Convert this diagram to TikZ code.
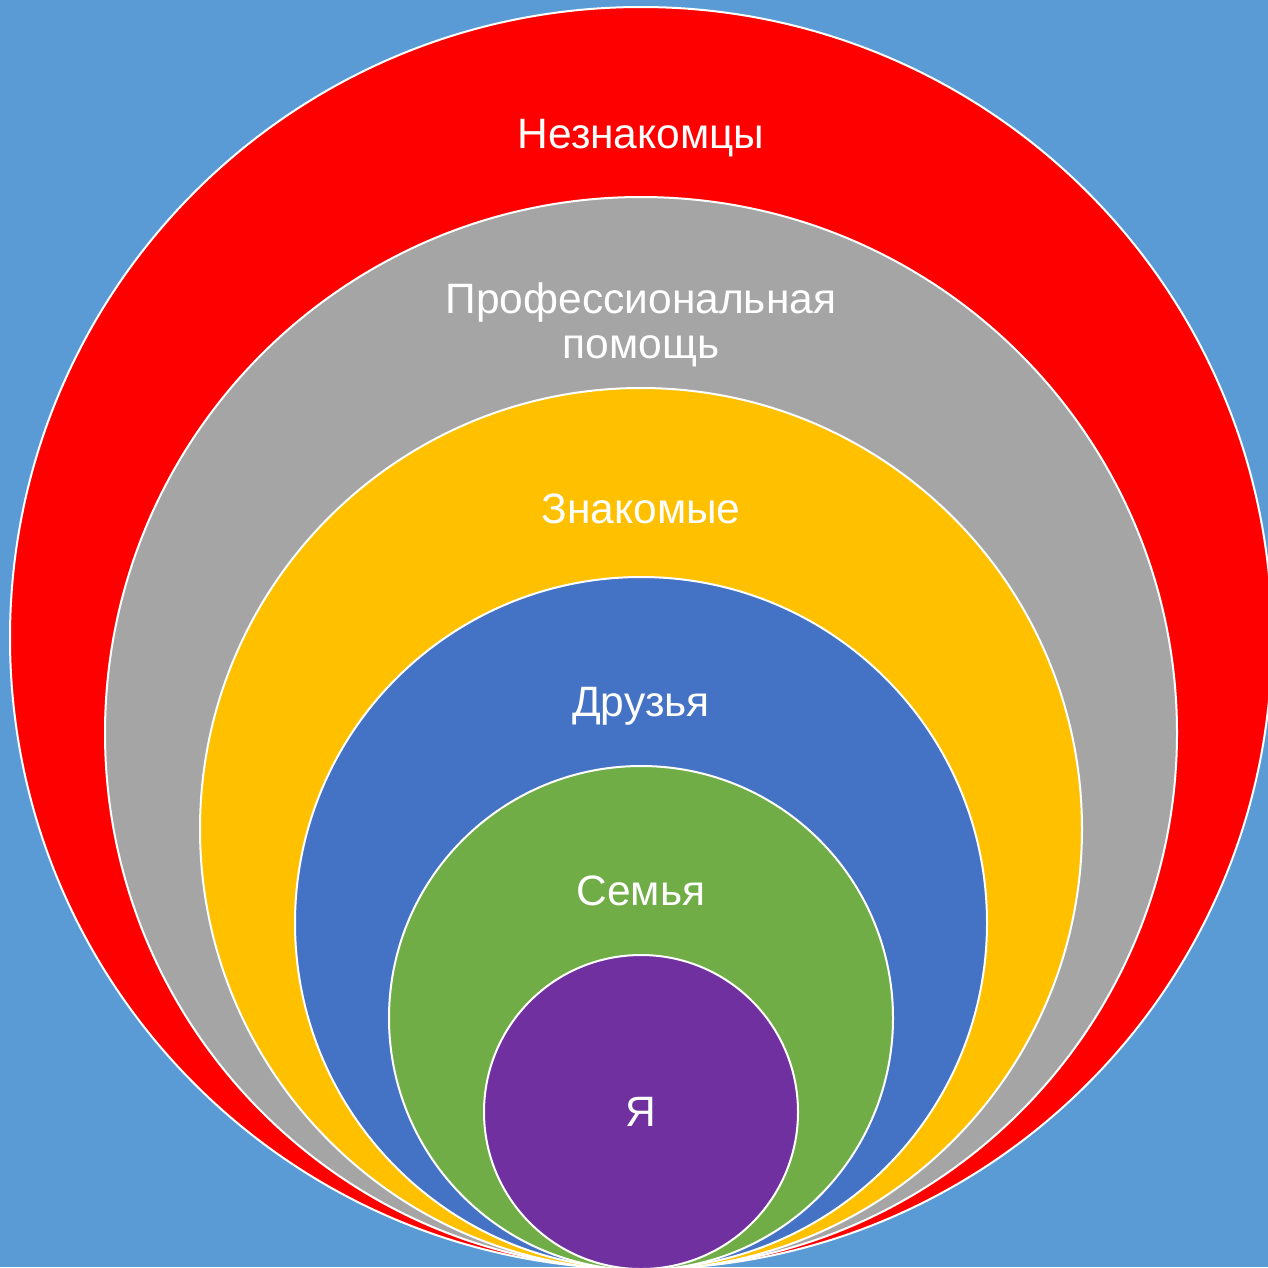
\documentclass[tikz,border=0pt]{standalone}
\usepackage{fontspec}
\setmainfont{Liberation Sans}
\definecolor{bgc}{HTML}{5B9BD5}
\definecolor{cred}{HTML}{FF0000}
\definecolor{cgray}{HTML}{A5A5A5}
\definecolor{cyel}{HTML}{FFC000}
\definecolor{cblue}{HTML}{4472C4}
\definecolor{cgreen}{HTML}{70AD47}
\definecolor{cpurp}{HTML}{7030A0}
\begin{document}
\begin{tikzpicture}[x=1pt,y=-1pt,
  ring/.style={circle,draw=white,line width=2pt,inner sep=0pt,outer sep=0pt},
  lbl/.style={text=white,font=\fontsize{42.5}{45}\selectfont,anchor=base,align=center}]
\fill[bgc] (0,0) rectangle (1268,1267);
\useasboundingbox (0,0) rectangle (1268,1267);
\begin{scope}
\clip (0,0) rectangle (1268,1267);
\node[ring,fill=cred,minimum size=1262pt] (c1) at (641,638) {};
\node[ring,fill=cgray,minimum size=1072pt] (c2) at (641,733) {};
\node[ring,fill=cyel,minimum size=882pt] (c3) at (641,829) {};
\node[ring,fill=cblue,minimum size=692pt] (c4) at (641,923) {};
\node[ring,fill=cgreen,minimum size=504pt] (c5) at (641,1018) {};
\node[ring,fill=cpurp,minimum size=314pt] (c6) at (641,1112) {};
\end{scope}
\node[lbl] (t1) at (641,148) {Незнакомцы};
\node[lbl] (t2a) at (641,313) {Профессиональная};
\node[lbl] (t2b) at (641,358) {помощь};
\node[lbl] (t3) at (641,523) {Знакомые};
\node[lbl] (t4) at (641,716) {Друзья};
\node[lbl] (t5) at (641,905) {Семья};
\node[lbl] (t6) at (641,1126) {Я};
\end{tikzpicture}
\end{document}
